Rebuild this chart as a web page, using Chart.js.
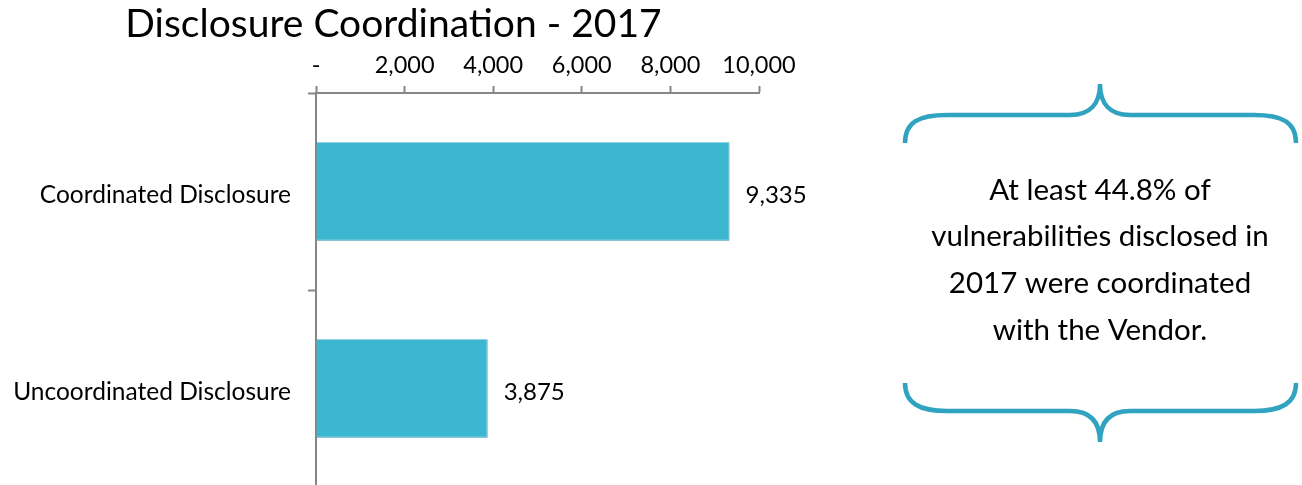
<!DOCTYPE html>
<html>
<head>
<meta charset="utf-8">
<script src="https://cdn.jsdelivr.net/npm/chart.js@4"></script>
<style>
  html, body { margin: 0; padding: 0; background: #fff; overflow: hidden; }
  #wrap { position: relative; width: 1302px; height: 487px; }
</style>
</head>
<body>
<div id="wrap"><canvas id="c1" width="1302" height="487"></canvas></div>
<script>
var categories = ['Coordinated Disclosure', 'Uncoordinated Disclosure'];
var counts = [9335, 3875];
var xTicks = [0, 2000, 4000, 6000, 8000, 10000];
var calloutLines = ['At least 44.8% of', 'vulnerabilities disclosed in', '2017 were coordinated', 'with the Vendor.'];

var FONT = 'Lato';
var axisColor = '#868686';
var barColor = '#3bb7d2';
var braceColor = '#2fa3c0';

// nudge the title a bit right so it sits over the plot, not the whole canvas
var titleShift = {
    id: 'titleShift',
    afterLayout: function (chart) {
        if (chart.titleBlock) {
            chart.titleBlock.left += 14;
            chart.titleBlock.right += 14;
        }
    }
};

// value labels to the right of each bar
var valueLabels = {
    id: 'valueLabels',
    afterDatasetsDraw: function (chart) {
        var ctx = chart.ctx;
        var meta = chart.getDatasetMeta(0);
        ctx.save();
        ctx.font = '24px ' + FONT;
        ctx.fillStyle = '#000';
        ctx.textAlign = 'left';
        ctx.textBaseline = 'middle';
        meta.data.forEach(function (bar, i) {
            ctx.fillText(counts[i].toLocaleString('en-US'), bar.x + 16, bar.y + 4);
        });
        ctx.restore();
    }
};

// curly brace box with the note on the right
var callout = {
    id: 'callout',
    afterDraw: function (chart) {
        var ctx = chart.ctx;
        var l = 905, r = 1296, m = 1100;
        ctx.save();
        ctx.strokeStyle = braceColor;
        ctx.lineWidth = 4.5;

        // top brace
        var yb = 143, yh = 115, yp = 84;
        ctx.beginPath();
        ctx.moveTo(l, yb);
        ctx.bezierCurveTo(l, 122, l + 14, yh, l + 42, yh);
        ctx.lineTo(m - 30, yh);
        ctx.bezierCurveTo(m - 10, yh, m, 104, m, yp);
        ctx.bezierCurveTo(m, 104, m + 10, yh, m + 30, yh);
        ctx.lineTo(r - 42, yh);
        ctx.bezierCurveTo(r - 14, yh, r, 122, r, yb);
        ctx.stroke();

        // bottom brace
        yb = 383; yh = 411; yp = 442;
        ctx.beginPath();
        ctx.moveTo(l, yb);
        ctx.bezierCurveTo(l, 403, l + 14, yh, l + 42, yh);
        ctx.lineTo(m - 30, yh);
        ctx.bezierCurveTo(m - 10, yh, m, 421, m, yp);
        ctx.bezierCurveTo(m, 421, m + 10, yh, m + 30, yh);
        ctx.lineTo(r - 42, yh);
        ctx.bezierCurveTo(r - 14, yh, r, 403, r, yb);
        ctx.stroke();

        ctx.font = '29.5px ' + FONT;
        ctx.fillStyle = '#000';
        ctx.textAlign = 'center';
        ctx.textBaseline = 'middle';
        calloutLines.forEach(function (line, i) {
            ctx.fillText(line, m, 190 + i * 46.7);
        });
        ctx.restore();
    }
};

var ctx = document.getElementById('c1');
var myChart = new Chart(ctx, {
    type: 'bar',
    data: {
        labels: categories,
        datasets: [{
            label: 'Disclosures',
            data: counts,
            backgroundColor: barColor,
            borderColor: '#2e97ae',
            borderWidth: { top: 0, left: 0, right: 1, bottom: 1 },
            borderSkipped: false,
            barPercentage: 0.5,
            categoryPercentage: 1
        }]
    },
    options: {
        indexAxis: 'y',
        responsive: false,
        animation: false,
        layout: { padding: { left: 0, right: 543, top: 0, bottom: 0 } },
        plugins: {
            legend: { display: false },
            tooltip: { enabled: false },
            title: {
                display: true,
                text: 'Disclosure Coordination - 2017',
                align: 'center',
                color: '#000',
                font: { family: FONT, size: 39, weight: 'normal', lineHeight: 1.0 },
                padding: { top: 5, bottom: 0 }
            }
        },
        scales: {
            x: {
                position: 'top',
                min: 0,
                max: 10000,
                afterBuildTicks: function (scale) {
                    scale.ticks = xTicks.map(function (v) { return { value: v }; });
                },
                afterFit: function (scale) { scale.height = 49; },
                grid: {
                    drawOnChartArea: false,
                    drawTicks: true,
                    tickLength: 7,
                    tickColor: axisColor,
                    tickWidth: 2
                },
                border: { color: axisColor, width: 2 },
                ticks: {
                    padding: 6,
                    color: '#000',
                    font: { family: FONT, size: 23.5 },
                    maxRotation: 0,
                    callback: function (v) { return v === 0 ? '-' : v.toLocaleString('en-US'); }
                }
            },
            y: {
                afterFit: function (scale) {
                    scale.width = 316;
                    scale.paddingTop = 0;
                    scale.paddingBottom = 0;
                },
                grid: {
                    offset: true,
                    drawOnChartArea: false,
                    drawTicks: true,
                    tickLength: 8,
                    tickColor: axisColor,
                    tickWidth: 2
                },
                border: { color: axisColor, width: 2 },
                ticks: {
                    padding: 17,
                    labelOffset: 4,
                    color: '#000',
                    font: { family: FONT, size: 24.5 }
                }
            }
        }
    },
    plugins: [titleShift, valueLabels, callout]
});
</script>
</body>
</html>
